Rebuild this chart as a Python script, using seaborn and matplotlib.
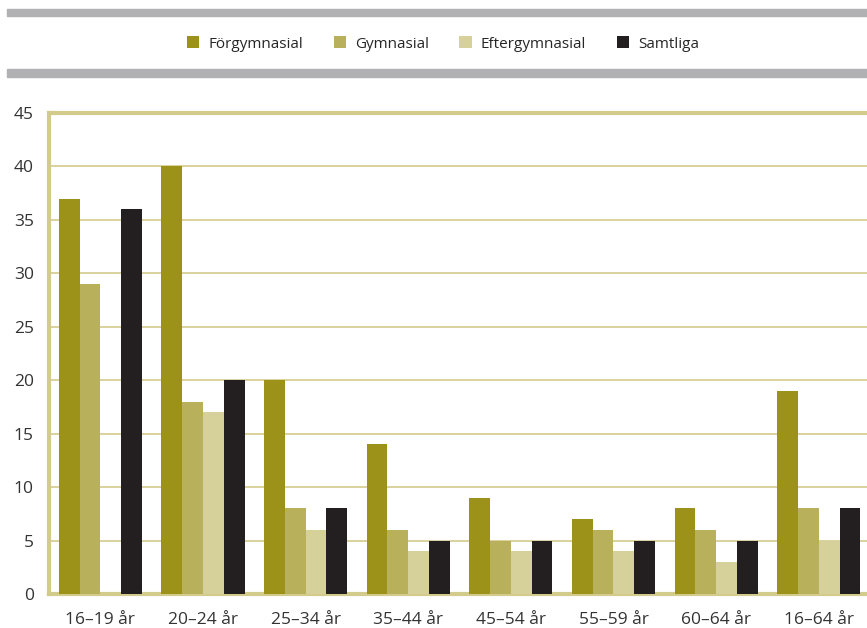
import numpy as np
import pandas as pd
import seaborn as sns
import matplotlib.pyplot as plt
from matplotlib.patches import Rectangle

# data
kategorier = ['16–19 år', '20–24 år', '25–34 år', '35–44 år', '45–54 år', '55–59 år', '60–64 år', '16–64 år']
serier = ['Förgymnasial', 'Gymnasial', 'Eftergymnasial', 'Samtliga']
forgymnasial = [37, 40, 20, 14, 9, 7, 8, 19]
gymnasial = [29, 18, 8, 6, 5, 6, 6, 8]
eftergymnasial = [np.nan, 17, 6, 4, 4, 4, 3, 5]
samtliga = [36, 20, 8, 5, 5, 5, 5, 8]
farger = ['#9c9219', '#b8b05b', '#d6d09a', '#231f20']

df = pd.DataFrame({
    'grupp': kategorier * 4,
    'serie': np.repeat(serier, len(kategorier)),
    'varde': forgymnasial + gymnasial + eftergymnasial + samtliga,
})

sns.set_style('white')
plt.rcParams['font.family'] = ['Open Sans', 'DejaVu Sans']
linjefarg = '#d3cb8c'

fig = plt.figure(figsize=(8.67, 6.28), dpi=100)
ax = fig.add_axes([49 / 867, 1 - 594 / 628, 1 - 49 / 867, (594 - 113) / 628])

sns.barplot(data=df, x='grupp', y='varde', hue='serie', palette=farger,
            width=0.81, saturation=1, linewidth=0, errorbar=None, ax=ax, zorder=3)

ax.set_ylim(0, 45)
ax.set_xlim(-0.5, 7.47)
ax.set_yticks(range(0, 50, 5))
ax.set_xlabel('')
ax.set_ylabel('')
ax.yaxis.grid(True, color=linjefarg, linewidth=1.2, zorder=0)
ax.axhline(45, color=linjefarg, linewidth=3, zorder=1, clip_on=False)
for s in ['top', 'right']:
    ax.spines[s].set_visible(False)
ax.spines['left'].set_color(linjefarg)
ax.spines['left'].set_linewidth(3)
ax.spines['bottom'].set_color(linjefarg)
ax.spines['bottom'].set_linewidth(3)
ax.tick_params(axis='y', length=9, width=1.5, color=linjefarg, labelsize=12.5, labelcolor='#333333', pad=2)
ax.tick_params(axis='x', length=0, labelsize=12.5, labelcolor='#333333', pad=13)

# legend in the band at the top
handles, labels = ax.get_legend_handles_labels()
ax.get_legend().remove()
fig.legend(handles, labels, loc='center', bbox_to_anchor=(443 / 867, 1 - 44 / 628), ncol=4,
           frameon=False, fontsize=11, handlelength=0.8, handleheight=0.8,
           handletextpad=0.6, columnspacing=2.0)

# grey bands above and below the legend
fig.patches.append(Rectangle((7 / 867, 1 - 16 / 628), 1, 7 / 628, transform=fig.transFigure,
                             color='#b1b1b3', zorder=0))
fig.patches.append(Rectangle((7 / 867, 1 - 77 / 628), 1, 8 / 628, transform=fig.transFigure,
                             color='#b1b1b3', zorder=0))

fig.savefig('out.png', dpi=100)
